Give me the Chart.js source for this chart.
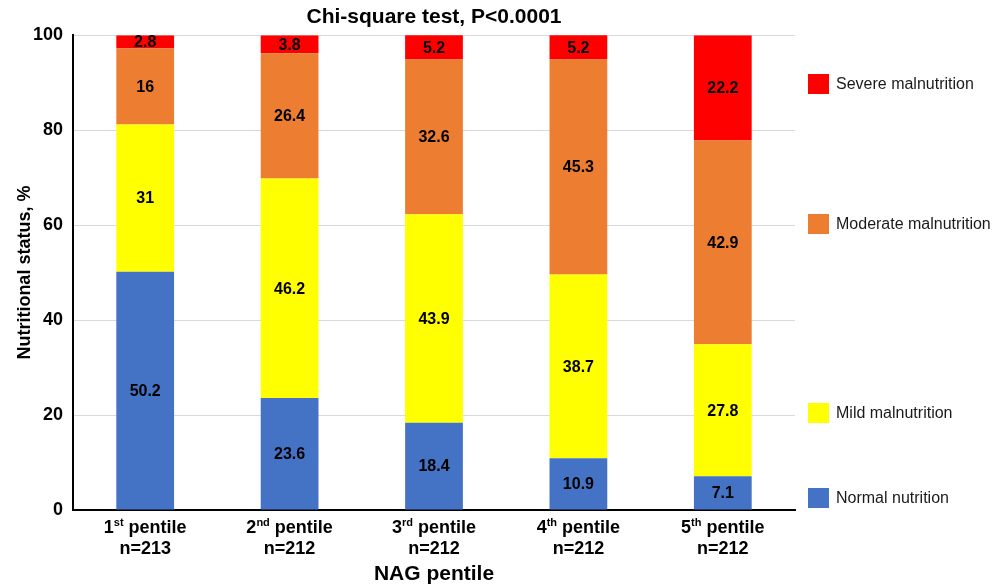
<!DOCTYPE html>
<html>
<head>
<meta charset="utf-8">
<script src="https://cdn.jsdelivr.net/npm/chart.js@4.4.1/dist/chart.umd.min.js"></script>
<style>
  html, body { margin: 0; padding: 0; background: #ffffff; }
  #wrap { width: 1000px; height: 587px; position: relative; }
</style>
</head>
<body>
<div id="wrap"><canvas id="c" width="1000" height="587"></canvas></div>
<script>
// ---- data ----
const pentileNumbers = ['1', '2', '3', '4', '5'];
const pentileSuffixes = ['st', 'nd', 'rd', 'th', 'th'];
const groupSizes = [213, 212, 212, 212, 212];
const normalNutrition = [50.2, 23.6, 18.4, 10.9, 7.1];
const mildMalnutrition = [31, 46.2, 43.9, 38.7, 27.8];
const moderateMalnutrition = [16, 26.4, 32.6, 45.3, 42.9];
const severeMalnutrition = [2.8, 3.8, 5.2, 5.2, 22.2];
const yTicks = [0, 20, 40, 60, 80, 100];
const seriesNames = ['Normal nutrition', 'Mild malnutrition', 'Moderate malnutrition', 'Severe malnutrition'];

const FONT = "'Liberation Sans', Arial, Helvetica, sans-serif";
const categoryLabels = pentileNumbers.map((n, i) => [n + pentileSuffixes[i] + ' pentile', 'n=' + groupSizes[i]]);

// data labels inside segments
const segmentLabels = {
  id: 'segmentLabels',
  afterDatasetsDraw(chart) {
    const ctx = chart.ctx;
    ctx.save();
    ctx.font = 'bold 16px ' + FONT;
    ctx.fillStyle = '#000';
    ctx.textAlign = 'center';
    ctx.textBaseline = 'middle';
    chart.data.datasets.forEach((ds, di) => {
      const meta = chart.getDatasetMeta(di);
      meta.data.forEach((bar, i) => {
        const v = ds.data[i];
        const yTop = Math.max(bar.y, chart.chartArea.top);
        ctx.fillText(String(v), bar.x, (yTop + bar.base) / 2 + 1);
      });
    });
    ctx.restore();
  }
};

// x tick labels with superscripts
const xLabels = {
  id: 'xLabels',
  afterDraw(chart) {
    const ctx = chart.ctx;
    const xs = chart.scales.x;
    const big = 'bold 18px ' + FONT;
    const small = 'bold 11px ' + FONT;
    const y1 = chart.chartArea.bottom + 18;
    const y2 = y1 + 21.5;
    ctx.save();
    ctx.fillStyle = '#000';
    ctx.textBaseline = 'middle';
    ctx.textAlign = 'left';
    pentileNumbers.forEach((n, i) => {
      const x = xs.getPixelForValue(i);
      const suf = pentileSuffixes[i];
      const rest = ' pentile';
      ctx.font = big; const w1 = ctx.measureText(n).width; const w3 = ctx.measureText(rest).width;
      ctx.font = small; const w2 = ctx.measureText(suf).width;
      let sx = x - (w1 + w2 + w3) / 2;
      ctx.font = big; ctx.fillText(n, sx, y1); sx += w1;
      ctx.font = small; ctx.fillText(suf, sx, y1 - 5); sx += w2;
      ctx.font = big; ctx.fillText(rest, sx, y1);
      ctx.textAlign = 'center';
      ctx.fillText('n=' + groupSizes[i], x, y2);
      ctx.textAlign = 'left';
    });
    ctx.restore();
  }
};

// legend at the right with custom spacing
const sideLegend = {
  id: 'sideLegend',
  afterDraw(chart) {
    const ctx = chart.ctx;
    const rows = [
      { di: 3, cy: 84 },
      { di: 2, cy: 224 },
      { di: 1, cy: 413 },
      { di: 0, cy: 498 }
    ];
    ctx.save();
    ctx.font = '16px ' + FONT;
    ctx.textBaseline = 'middle';
    ctx.textAlign = 'left';
    rows.forEach(r => {
      const ds = chart.data.datasets[r.di];
      ctx.fillStyle = ds.backgroundColor;
      ctx.fillRect(808, r.cy - 10, 21, 20);
      ctx.fillStyle = '#1a1a1a';
      ctx.fillText(ds.label, 836, r.cy + 1);
    });
    ctx.restore();
  }
};

new Chart(document.getElementById('c'), {
  type: 'bar',
  data: {
    labels: categoryLabels,
    datasets: [
      { label: seriesNames[0], data: normalNutrition, backgroundColor: '#4472C4' },
      { label: seriesNames[1], data: mildMalnutrition, backgroundColor: '#FFFF00' },
      { label: seriesNames[2], data: moderateMalnutrition, backgroundColor: '#ED7D31' },
      { label: seriesNames[3], data: severeMalnutrition, backgroundColor: '#FF0000' }
    ]
  },
  options: {
    responsive: false,
    animation: false,
    devicePixelRatio: 1,
    layout: { padding: { left: 14, right: 205, top: 0, bottom: 0 } },
    datasets: { bar: { barPercentage: 0.4, categoryPercentage: 1.0, borderWidth: 0 } },
    plugins: {
      legend: { display: false },
      tooltip: { enabled: false },
      title: {
        display: true,
        fullSize: false,
        text: 'Chi-square test, P<0.0001',
        color: '#000',
        font: { family: FONT, size: 21, weight: 'bold', lineHeight: 1.2 },
        padding: { top: 5, bottom: 5 }
      }
    },
    scales: {
      x: {
        stacked: true,
        grid: { display: false, drawTicks: false },
        border: { display: true, color: '#000', width: 2 },
        ticks: {
          color: 'rgba(0,0,0,0)',
          font: { family: FONT, size: 18, weight: 'bold', lineHeight: 1.2 },
          padding: 4,
          maxRotation: 0,
          autoSkip: false
        },
        afterFit(scale) { scale.height = 77; },
        title: {
          display: true,
          text: 'NAG pentile',
          color: '#000',
          font: { family: FONT, size: 21, weight: 'bold', lineHeight: 1.2 },
          padding: { top: 1, bottom: 0 }
        }
      },
      y: {
        stacked: true,
        min: 0,
        max: 100,
        afterBuildTicks(scale) { scale.ticks = yTicks.map(v => ({ value: v })); },
        afterFit(scale) { scale.width = 59; },
        grid: { color: '#d9d9d9', lineWidth: 1, drawTicks: false },
        border: { display: true, color: '#000', width: 2 },
        ticks: {
          color: '#000',
          font: { family: FONT, size: 18, weight: 'bold' },
          padding: 10
        },
        title: {
          display: true,
          text: 'Nutritional status, %',
          color: '#000',
          font: { family: FONT, size: 18, weight: 'bold', lineHeight: 1.2 },
          padding: { top: 0, bottom: 0 }
        }
      }
    }
  },
  plugins: [segmentLabels, xLabels, sideLegend]
});
</script>
</body>
</html>
